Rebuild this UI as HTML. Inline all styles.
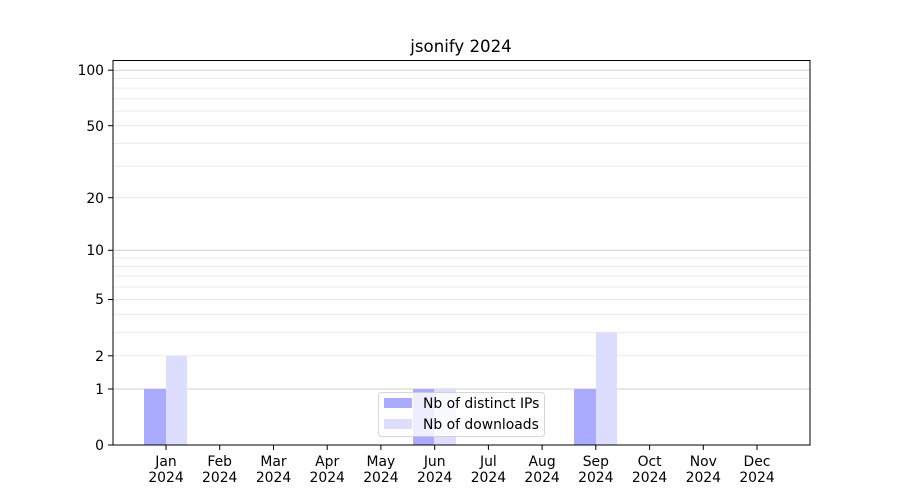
<!DOCTYPE html>
<html><head><meta charset="utf-8"><style>body{margin:0;background:#fff}svg{display:block}text{font-family:"DejaVu Sans","Liberation Sans",sans-serif;font-size:13.9px;fill:#000}</style></head>
<body>
<svg width="900" height="500" xmlns="http://www.w3.org/2000/svg">
<rect width="900" height="500" fill="#fff"/>
<text x="461" y="52" text-anchor="middle" style="font-size:16.6px">jsonify 2024</text>
<g stroke="#ebebeb" stroke-width="1">
<line x1="113" x2="810" y1="355.8" y2="355.8"/><line x1="113" x2="810" y1="332.4" y2="332.4"/><line x1="113" x2="810" y1="314.3" y2="314.3"/><line x1="113" x2="810" y1="299.5" y2="299.5"/><line x1="113" x2="810" y1="287" y2="287"/><line x1="113" x2="810" y1="276.1" y2="276.1"/><line x1="113" x2="810" y1="266.5" y2="266.5"/><line x1="113" x2="810" y1="258" y2="258"/>
<line x1="113" x2="810" y1="197.7" y2="197.7"/><line x1="113" x2="810" y1="166.1" y2="166.1"/><line x1="113" x2="810" y1="143.4" y2="143.4"/><line x1="113" x2="810" y1="125.7" y2="125.7"/><line x1="113" x2="810" y1="111.1" y2="111.1"/><line x1="113" x2="810" y1="98.8" y2="98.8"/><line x1="113" x2="810" y1="88.1" y2="88.1"/><line x1="113" x2="810" y1="78.5" y2="78.5"/>
</g>
<g stroke="#cfcfcf" stroke-width="1">
<line x1="113" x2="810" y1="389" y2="389"/><line x1="113" x2="810" y1="250.3" y2="250.3"/><line x1="113" x2="810" y1="70.2" y2="70.2"/>
</g>
<rect x="144" y="389" width="22" height="56" fill="#aaaaff"/>
<rect x="166" y="355.8" width="21" height="89.2" fill="#ddddff"/>
<rect x="413" y="389" width="21" height="56" fill="#aaaaff"/>
<rect x="434" y="389" width="22" height="56" fill="#ddddff"/>
<rect x="574" y="389" width="22" height="56" fill="#aaaaff"/>
<rect x="596" y="332.4" width="21" height="112.6" fill="#ddddff"/>
<rect x="378.5" y="392.5" width="166" height="44" rx="3" fill="#fff" fill-opacity="0.8" stroke="#ccc" stroke-opacity="0.8"/>
<rect x="384" y="398" width="28" height="10" fill="#aaaaff"/>
<rect x="384" y="419" width="28" height="10" fill="#ddddff"/>
<text x="423" y="408">Nb of distinct IPs</text>
<text x="423" y="429">Nb of downloads</text>
<rect x="113" y="60.5" width="697" height="384.5" fill="none" stroke="#000" stroke-width="1"/>
<g stroke="#000">
<line x1="108" x2="113" y1="445" y2="445"/><line x1="108" x2="113" y1="389" y2="389"/><line x1="108" x2="113" y1="355.8" y2="355.8"/><line x1="108" x2="113" y1="299.5" y2="299.5"/><line x1="108" x2="113" y1="250.3" y2="250.3"/><line x1="108" x2="113" y1="197.7" y2="197.7"/><line x1="108" x2="113" y1="125.7" y2="125.7"/><line x1="108" x2="113" y1="70.2" y2="70.2"/>
</g>
<g text-anchor="end">
<text x="104" y="450">0</text><text x="104" y="394">1</text><text x="104" y="361">2</text><text x="104" y="304">5</text><text x="104" y="255">10</text><text x="104" y="203">20</text><text x="104" y="131">50</text><text x="104" y="75">100</text>
</g>
<g stroke="#000">
<line x1="166" x2="166" y1="445" y2="450"/><line x1="219.7" x2="219.7" y1="445" y2="450"/><line x1="273.5" x2="273.5" y1="445" y2="450"/><line x1="327.2" x2="327.2" y1="445" y2="450"/><line x1="380.9" x2="380.9" y1="445" y2="450"/><line x1="434.7" x2="434.7" y1="445" y2="450"/><line x1="488.4" x2="488.4" y1="445" y2="450"/><line x1="542.1" x2="542.1" y1="445" y2="450"/><line x1="595.8" x2="595.8" y1="445" y2="450"/><line x1="649.6" x2="649.6" y1="445" y2="450"/><line x1="703.3" x2="703.3" y1="445" y2="450"/><line x1="757" x2="757" y1="445" y2="450"/>
</g>
<g text-anchor="middle">
<text x="166" y="466">Jan</text><text x="166" y="482">2024</text>
<text x="219.7" y="466">Feb</text><text x="219.7" y="482">2024</text>
<text x="273.5" y="466">Mar</text><text x="273.5" y="482">2024</text>
<text x="327.2" y="466">Apr</text><text x="327.2" y="482">2024</text>
<text x="380.9" y="466">May</text><text x="380.9" y="482">2024</text>
<text x="434.7" y="466">Jun</text><text x="434.7" y="482">2024</text>
<text x="488.4" y="466">Jul</text><text x="488.4" y="482">2024</text>
<text x="542.1" y="466">Aug</text><text x="542.1" y="482">2024</text>
<text x="595.8" y="466">Sep</text><text x="595.8" y="482">2024</text>
<text x="649.6" y="466">Oct</text><text x="649.6" y="482">2024</text>
<text x="703.3" y="466">Nov</text><text x="703.3" y="482">2024</text>
<text x="757" y="466">Dec</text><text x="757" y="482">2024</text>
</g>
</svg>
</body></html>
